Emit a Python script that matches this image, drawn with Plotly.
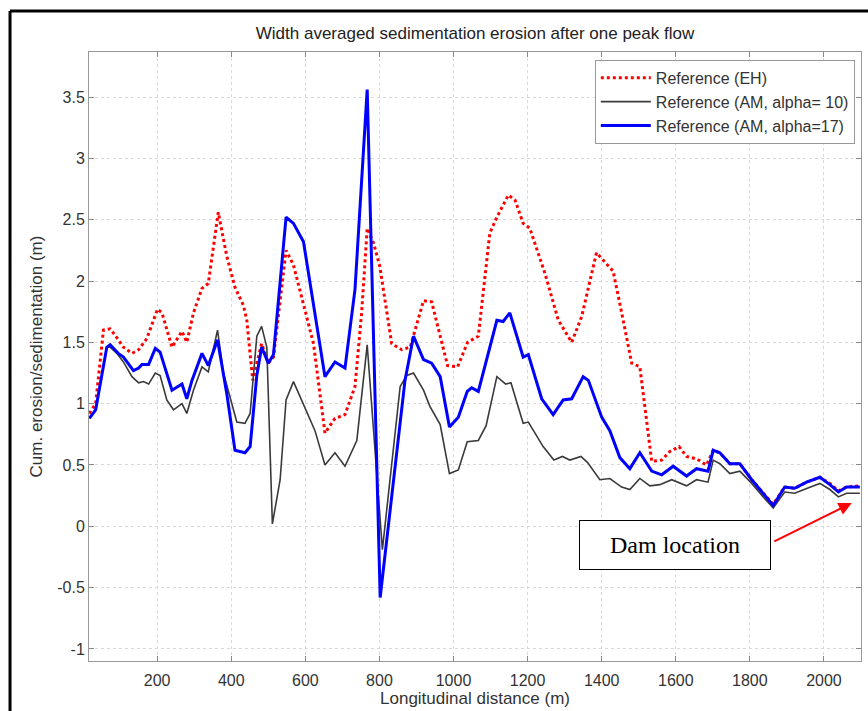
import plotly.graph_objects as go

# ---- data ----
eh_x = [17, 34, 55, 73, 86, 109, 132, 150, 172, 186, 201, 213, 240, 267, 280, 298, 321, 338, 365, 388,
        410, 433, 442, 458, 482, 500, 514, 548, 568, 622, 653, 680, 707, 734, 752, 767, 784, 801, 833, 860,
        883, 919, 941, 984, 1011, 1038, 1067, 1098, 1117, 1148, 1166, 1188, 1206, 1247, 1283, 1319, 1346,
        1386, 1404, 1431, 1458, 1481, 1503, 1535, 1562, 1584, 1609, 1629, 1656, 1683, 1701, 1719, 1746,
        1773, 1805, 1836, 1863, 1894, 1921, 1953, 1989, 2016, 2039, 2061, 2097]
eh_y = [0.92, 1.00, 1.60, 1.61, 1.56, 1.46, 1.41, 1.44, 1.53, 1.65, 1.77, 1.74, 1.46, 1.59, 1.50, 1.74,
        1.94, 1.98, 2.56, 2.20, 1.95, 1.80, 1.68, 1.19, 1.49, 1.33, 1.38, 2.25, 2.13, 1.49, 0.76, 0.88,
        0.91, 1.14, 1.74, 2.43, 2.31, 2.12, 1.49, 1.44, 1.46, 1.84, 1.83, 1.31, 1.30, 1.50, 1.55, 2.39,
        2.52, 2.70, 2.66, 2.47, 2.43, 2.06, 1.68, 1.50, 1.71, 2.23, 2.17, 2.08, 1.68, 1.33, 1.30, 0.53,
        0.54, 0.61, 0.65, 0.57, 0.55, 0.50, 0.62, 0.60, 0.51, 0.51, 0.38, 0.27, 0.18, 0.32, 0.31, 0.36,
        0.40, 0.35, 0.29, 0.32, 0.33]

am10_x = [17, 34, 64, 73, 91, 109, 132, 150, 163, 177, 195, 208, 226, 244, 267, 280, 298, 321, 338, 363,
          379, 415, 437, 451, 469, 482, 496, 511, 532, 548, 568, 590, 626, 653, 680, 707, 739, 767, 808,
          856, 874, 892, 919, 936, 964, 989, 1013, 1037, 1067, 1088, 1117, 1141, 1155, 1188, 1202, 1242,
          1271, 1294, 1314, 1344, 1362, 1395, 1422, 1454, 1476, 1503, 1530, 1557, 1589, 1629, 1656, 1687,
          1701, 1719, 1746, 1773, 1805, 1836, 1863, 1894, 1921, 1955, 1989, 2016, 2039, 2061, 2097]
am10_y = [0.88, 0.95, 1.46, 1.46, 1.41, 1.34, 1.22, 1.17, 1.18, 1.16, 1.25, 1.23, 1.03, 0.95, 1.00, 0.92,
          1.11, 1.30, 1.26, 1.60, 1.25, 0.85, 0.84, 0.92, 1.55, 1.63, 1.46, 0.02, 0.38, 1.03, 1.18, 1.03,
          0.78, 0.50, 0.60, 0.49, 0.70, 1.48, -0.19, 1.14, 1.23, 1.25, 1.11, 0.98, 0.83, 0.43, 0.46, 0.69,
          0.70, 0.82, 1.22, 1.16, 1.17, 0.84, 0.85, 0.65, 0.54, 0.57, 0.54, 0.57, 0.52, 0.38, 0.39, 0.32,
          0.30, 0.39, 0.33, 0.34, 0.38, 0.33, 0.38, 0.36, 0.54, 0.51, 0.43, 0.45, 0.35, 0.24, 0.15, 0.28,
          0.27, 0.31, 0.35, 0.30, 0.24, 0.27, 0.27]

am17_x = [17, 34, 64, 73, 95, 109, 136, 150, 159, 177, 195, 208, 240, 267, 280, 294, 321, 338, 363, 388,
          410, 437, 451, 469, 482, 500, 514, 548, 568, 595, 653, 680, 707, 734, 767, 802, 869, 892, 919,
          941, 964, 989, 1013, 1037, 1049, 1067, 1117, 1134, 1152, 1188, 1202, 1238, 1269, 1296, 1319,
          1350, 1364, 1400, 1422, 1449, 1476, 1503, 1535, 1562, 1593, 1629, 1656, 1687, 1701, 1719, 1746,
          1773, 1805, 1836, 1863, 1894, 1921, 1953, 1989, 2016, 2039, 2061, 2097]
am17_y = [0.88, 0.95, 1.46, 1.48, 1.41, 1.38, 1.27, 1.29, 1.32, 1.32, 1.45, 1.42, 1.11, 1.16, 1.04, 1.19,
          1.41, 1.31, 1.52, 1.08, 0.62, 0.60, 0.65, 1.23, 1.46, 1.33, 1.40, 2.52, 2.47, 2.32, 1.22, 1.34,
          1.29, 1.93, 3.56, -0.58, 1.19, 1.55, 1.36, 1.33, 1.22, 0.81, 0.89, 1.10, 1.13, 1.10, 1.68, 1.67,
          1.74, 1.38, 1.40, 1.04, 0.91, 1.03, 1.04, 1.22, 1.19, 0.89, 0.78, 0.56, 0.47, 0.60, 0.45, 0.42,
          0.49, 0.41, 0.47, 0.45, 0.62, 0.60, 0.51, 0.51, 0.38, 0.27, 0.17, 0.32, 0.31, 0.36, 0.40, 0.34,
          0.28, 0.32, 0.32]

series_names = ["Reference (EH)", "Reference (AM, alpha= 10)", "Reference (AM, alpha=17)"]
x_tickvals = [200, 400, 600, 800, 1000, 1200, 1400, 1600, 1800, 2000]
y_tickvals = [-1, -0.5, 0, 0.5, 1, 1.5, 2, 2.5, 3, 3.5]
y_ticktext = ["-1", "-0.5", "0", "0.5", "1", "1.5", "2", "2.5", "3", "3.5"]

fig = go.Figure()
fig.add_trace(go.Scatter(x=eh_x, y=eh_y, mode="lines", name=series_names[0],
                         line=dict(color="#ff0000", width=3, dash="dot")))
fig.add_trace(go.Scatter(x=am10_x, y=am10_y, mode="lines", name=series_names[1],
                         line=dict(color="#3a3a3a", width=1.6)))
fig.add_trace(go.Scatter(x=am17_x, y=am17_y, mode="lines", name=series_names[2],
                         line=dict(color="#0000ff", width=3)))

font_main = "Liberation Sans, Arial, sans-serif"
fig.update_layout(
    width=868, height=711,
    margin=dict(l=89, r=7, t=52, b=50),
    paper_bgcolor="white", plot_bgcolor="white",
    font=dict(family=font_main, size=16, color="#333333"),
    title=dict(text="Width averaged sedimentation erosion after one peak flow",
               x=0.5, xref="paper", xanchor="center", y=1 - 33 / 711, yanchor="middle",
               font=dict(size=17, color="#222222")),
    showlegend=True,
    legend=dict(x=0.992, y=0.987, xanchor="right", yanchor="top",
                bgcolor="white", bordercolor="#999999", borderwidth=1,
                font=dict(size=16, color="#333333"), tracegroupgap=0, itemwidth=50),
)
fig.update_xaxes(range=[16, 2100], tickvals=x_tickvals, ticks="inside", ticklen=5,
                 tickcolor="#888888", showline=True, linecolor="#999999", linewidth=1,
                 mirror="ticks", showgrid=True, gridcolor="#d9d9d9", griddash="dot",
                 zeroline=False, ticklabelstandoff=5, tickfont=dict(size=16),
                 title=dict(text="Longitudinal distance (m)", standoff=0, font=dict(size=17)))
fig.update_yaxes(range=[-1.098, 3.867], tickvals=y_tickvals, ticktext=y_ticktext, ticks="inside",
                 ticklen=5, tickcolor="#888888", showline=True, linecolor="#999999", linewidth=1,
                 mirror="ticks", showgrid=True, gridcolor="#d9d9d9", griddash="dot",
                 zeroline=False, tickfont=dict(size=16),
                 title=dict(text="Cum. erosion/sedimentation (m)", standoff=10, font=dict(size=17)))

# outer black frame of the original figure (left and top edges visible)
fig.add_shape(type="line", xref="paper", yref="paper", x0=-0.1023, x1=-0.1023, y0=-0.2, y1=1.0673,
              line=dict(color="black", width=3))
fig.add_shape(type="line", xref="paper", yref="paper", x0=-0.1023, x1=1.2, y0=1.0673, y1=1.0673,
              line=dict(color="black", width=3))

# "Dam location" callout with red arrow
fig.add_annotation(x=0.7597, y=0.1897, xref="paper", yref="paper", xanchor="center", yanchor="middle",
                   text="Dam location", showarrow=False,
                   font=dict(family="Liberation Serif, Times New Roman, serif", size=24, color="black"),
                   bgcolor="white", bordercolor="black", borderwidth=1, width=188, height=46)
fig.add_annotation(x=2075, y=0.19, ax=1862, ay=-0.128, xref="x", yref="y", axref="x", ayref="y",
                   text="", showarrow=True, arrowhead=2, arrowsize=1.3, arrowwidth=2,
                   arrowcolor="#ff0000")

fig.write_html("out.html", config={"displayModeBar": False},
               post_script="document.body.style.margin='0';")
